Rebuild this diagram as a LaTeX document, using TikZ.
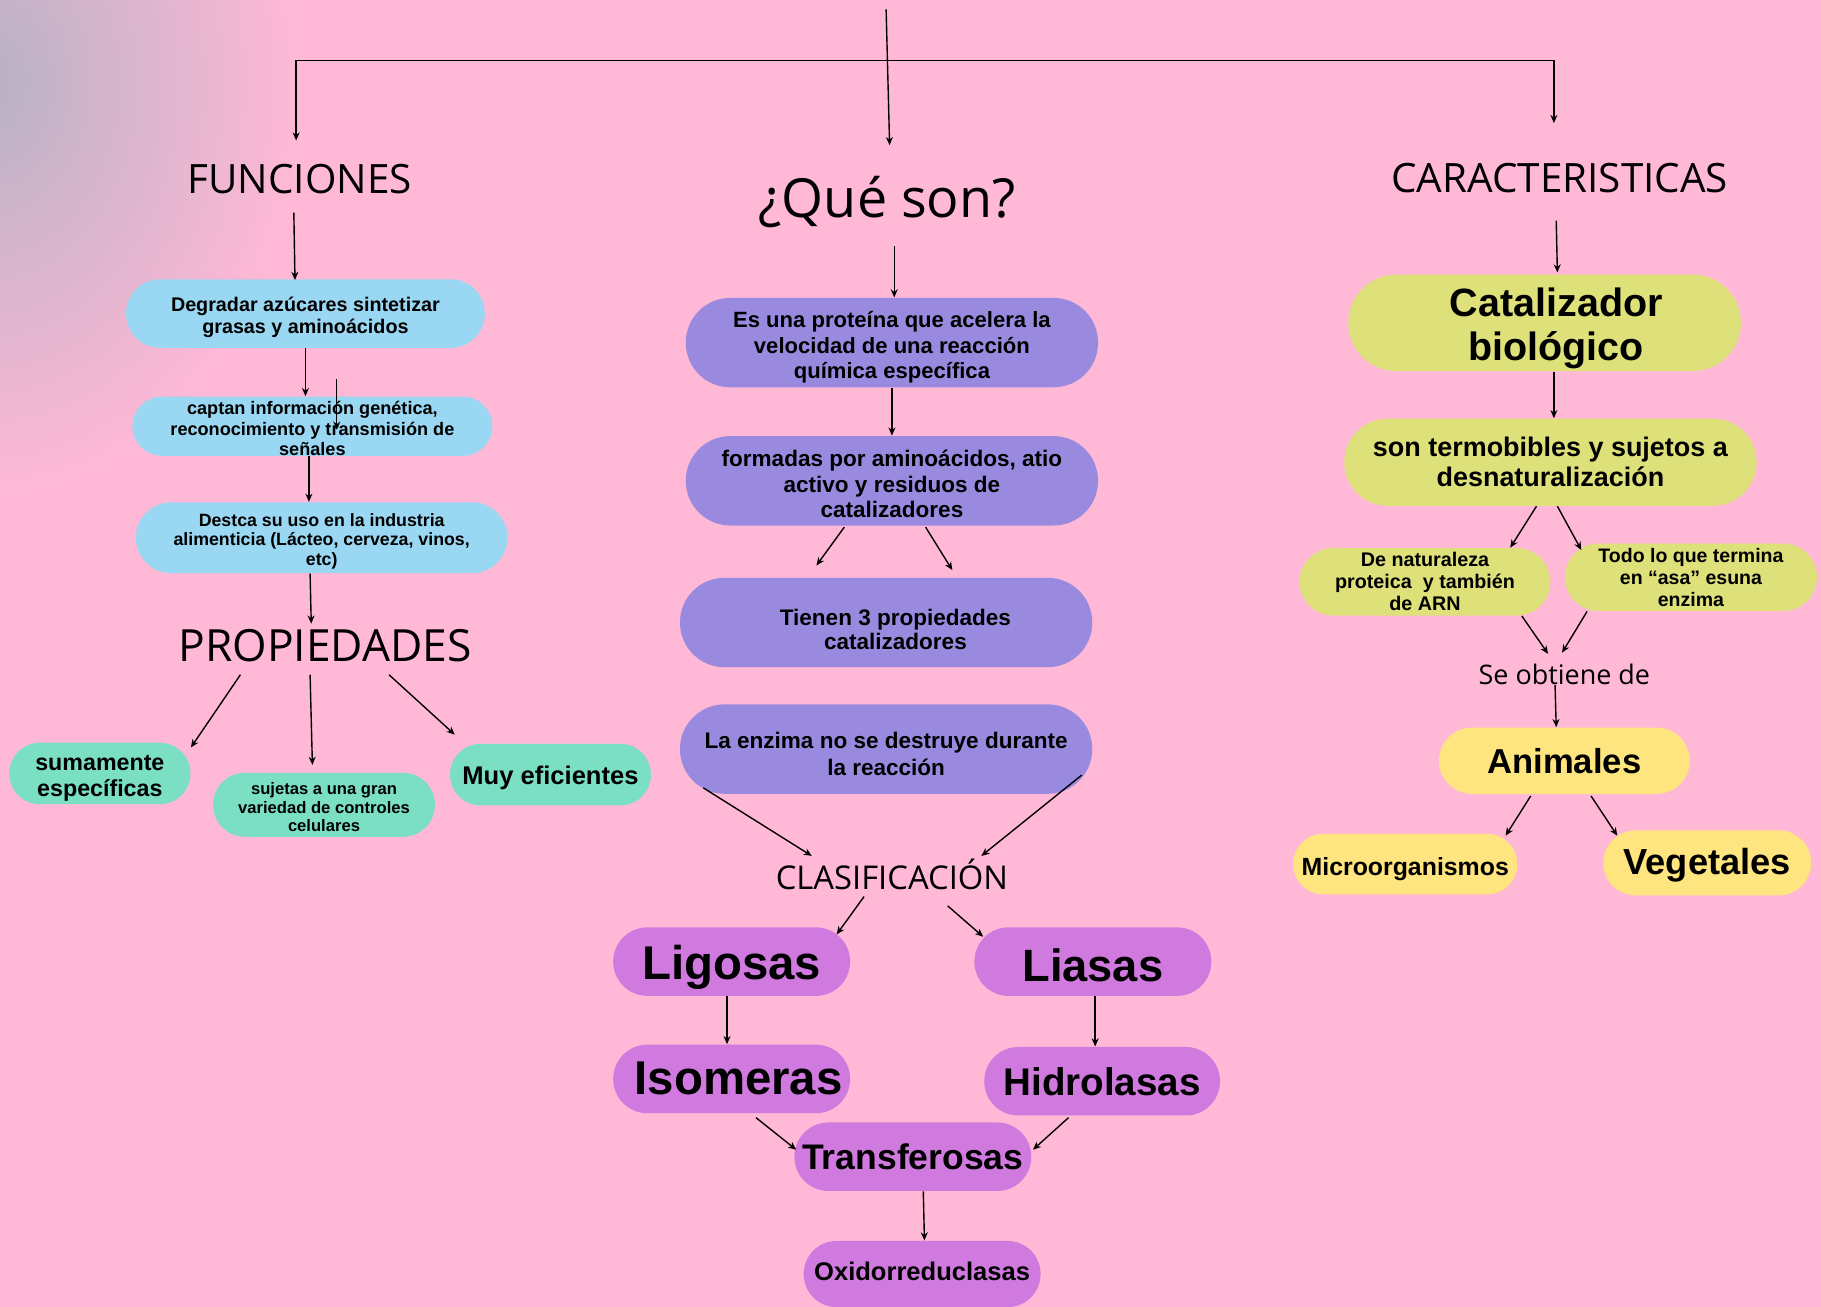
\documentclass[tikz,border=0pt]{standalone}
\usepackage{fontspec}
\newfontfamily\bodyfont{Liberation Sans}
\newfontfamily\titlefont{Open Sans}
\usetikzlibrary{arrows.meta,calc}
\definecolor{pinkbg}{HTML}{FFB8D6}
\definecolor{graylav}{HTML}{B8B2C4}
\definecolor{cblue}{HTML}{9AD7F2}
\definecolor{cgreen}{HTML}{7BDFC4}
\definecolor{cpurple}{HTML}{9A8ADF}
\definecolor{cmag}{HTML}{D07ADF}
\definecolor{cyg}{HTML}{DEE07A}
\definecolor{cyel}{HTML}{FFE57F}
\begin{document}
\begin{tikzpicture}[x=0.5pt,y=-0.5pt,
  pill/.style 2 args={rectangle, draw=none, inner sep=0pt,
    minimum width=#1*0.5pt, minimum height=#2*0.5pt, rounded corners=#2*0.249pt},
  lbl/.style n args={3}{align=center, inner sep=0pt, yshift=#3,
    font=\bodyfont\bfseries\fontsize{#1}{#2}\selectfont},
  ttl/.style={inner sep=0pt, anchor=base, font=\titlefont\fontsize{#1}{#1}\selectfont},
  arr/.style={-{Stealth[length=3.5pt,width=3pt]}, line width=0.6pt},
  arrb/.style={{Stealth[length=3.5pt,width=3pt]}-{Stealth[length=3.5pt,width=3pt]}, line width=0.6pt}]
\clip (0,0) rectangle (1568,1125);
\fill[pinkbg] (0,0) rectangle (1568,1125);
\shade[inner color=graylav, outer color=pinkbg] (-10,70) ellipse [x radius=270, y radius=360];

% titles
\node[ttl=17.4] (func) at (258,167) {FUNCIONES};
\node[ttl=23.2] (que) at (764,187) {¿Qué son?};
\node[ttl=17.4] (car) at (1343,166) {CARACTERISTICAS};
\node[ttl=19.1] (prop) at (280,570) {PROPIEDADES};
\node[ttl=14.1] (clas) at (768,766) {CLASIFICACIÓN};
\node[ttl=11.6] (se) at (1347,589) {Se obtiene de};

% left column
\node[pill={309}{59}, fill=cblue, label={[lbl={8.5}{9.5}{-1.5pt}, name=b1t]center:{Degradar azúcares sintetizar\\grasas y aminoácidos}}] (b1) at (263,270) {};
\node[pill={310}{51}, fill=cblue, label={[lbl={7.8}{8.75}{-1pt}, name=b2t]center:{captan información genética,\\reconocimiento y transmisión de\\señales}}] (b2) at (269,367) {};
\node[pill={320}{61}, fill=cblue, label={[lbl={7.65}{8.5}{-1.5pt}, name=b3t]center:{Destca su uso en la industria\\alimenticia (Lácteo, cerveza, vinos,\\etc)}}] (b3) at (277,463) {};
\node[pill={156}{53}, fill=cgreen, label={[lbl={10}{11}{-2pt}, name=g1t]center:{sumamente\\específicas}}] (g1) at (86,666) {};
\node[pill={191}{55}, fill=cgreen, label={[lbl={7.15}{8}{-1pt}, name=g2t]center:{sujetas a una gran\\variedad de controles\\celulares}}] (g2) at (279,693) {};
\node[pill={173}{53}, fill=cgreen, label={[lbl={11}{13}{-1.5pt}, name=g3t]center:{Muy eficientes}}] (g3) at (474,667) {};

% middle column
\node[pill={355}{77}, fill=cpurple, label={[lbl={9.5}{11}{-2pt}, name=p1t]center:{Es una proteína que acelera la\\velocidad de una reacción\\química específica}}] (p1) at (768,295) {};
\node[pill={355}{77}, fill=cpurple, label={[lbl={9.7}{11}{-1.5pt}, name=p2t]center:{formadas por aminoácidos, atio\\activo y residuos de\\catalizadores}}] (p2) at (768,414) {};
\node[pill={355}{77}, fill=cpurple, label={[lbl={9.7}{10.5}{-3pt}, xshift=4pt, name=p3t]center:{Tienen 3 propiedades\\catalizadores}}] (p3) at (763,536) {};
\node[pill={355}{77}, fill=cpurple, label={[lbl={9.7}{11.5}{-2pt}, name=p4t]center:{La enzima no se destruye durante\\la reacción}}] (p4) at (763,645) {};
\node[pill={204}{59}, fill=cmag, label={[lbl={20.4}{24}{-2.5pt}, name=ligt]center:{Ligosas}}] (lig) at (630,828) {};
\node[pill={204}{59}, fill=cmag, label={[lbl={19.5}{23}{-1.5pt}, name=liat]center:{Liasas}}] (lia) at (941,828) {};
\node[pill={204}{59}, fill=cmag, label={[lbl={20.4}{24}{0pt}, xshift=3pt, name=isot]center:{Isomeras}}] (iso) at (630,929) {};
\node[pill={203}{59}, fill=cmag, label={[lbl={16.6}{20}{0pt}, name=hidt]center:{Hidrolasas}}] (hid) at (949,931) {};
\node[pill={204}{59}, fill=cmag, label={[lbl={15.3}{18}{0pt}, name=trat]center:{Transferosas}}] (tra) at (786,996) {};
\node[pill={204}{57}, fill=cmag, label={[lbl={11}{13}{1pt}, name=oxit]center:{Oxidorreduclasas}}] (oxi) at (794,1097) {};

% right column
\node[pill={338}{83}, fill=cyg, label={[lbl={17}{19}{-2.5pt}, xshift=5pt, name=catt]center:{Catalizador\\biológico}}] (cat) at (1330,278) {};
\node[pill={355}{75}, fill=cyg, label={[lbl={11.6}{13}{0pt}, name=sont]center:{son termobibles y sujetos a\\desnaturalización}}] (son) at (1335,398) {};
\node[pill={216}{58}, fill=cyg, label={[lbl={8.5}{9.5}{0pt}, name=dnt]center:{De naturaleza\\proteica\ \ y también\\de ARN}}] (dn) at (1227,501) {};
\node[pill={217}{58}, fill=cyg, label={[lbl={8.4}{9.5}{0pt}, name=tdt]center:{Todo lo que termina\\en “asa” esuna\\enzima}}] (td) at (1456,497) {};
\node[pill={216}{57}, fill=cyel, label={[lbl={14.9}{18}{0pt}, name=animt]center:{Animales}}] (anim) at (1347,655) {};
\node[pill={193}{52}, fill=cyel, label={[lbl={10.7}{13}{-2pt}, name=mict]center:{Microorganismos}}] (mic) at (1210,744) {};
\node[pill={179}{56}, fill=cyel, label={[lbl={15.6}{18}{-1pt}, name=vegt]center:{Vegetales}}] (veg) at (1470,743) {};

% free ends
\coordinate (top) at (763,8);
\coordinate (p2l) at ($(p2.south)+(-65,34)$);
\coordinate (p2r) at ($(p2.south)+(52,38)$);

% connectors
\draw[arr] (top) -- ($(que.base)+(2,-62)$);
\draw[arrb] ($(func.base)+(-3,-46)$) |- ($(car.base)+(-5,-114)$) -- ($(car.base)+(-5,-60)$);
\draw[arr] ($(func.base)+(-5,16)$) -- ($(b1.north)+(-9,1)$);
\draw[arr] (b1.south) -- ($(b2.north)+(-6,0)$);
\draw[arr] ($(b2.center)+(21,-41)$) -- ($(b2.center)+(21,3)$);
\draw[arr] ($(b2.south)+(-3,0)$) -- ($(b3.north)+(-11,0)$);
\draw[arr] ($(b3.south)+(-10,0)$) -- ($(prop.base)+(-12,-33)$);
\draw[arr] ($(prop.base)+(-73,11)$) -- ($(g1.north east)+(0,4.5)$);
\draw[arr] ($(prop.base)+(-13,11)$) -- ($(g2.north)+(-10,-6.5)$);
\draw[arr] ($(prop.base)+(55,11)$) -- ($(g3.north west)+(4.5,-7.5)$);
\draw[arr] ($(que.base)+(6,25)$) -- ($(p1.north)+(2,0)$);
\draw[arr] (p1.south) -- (p2.north);
\draw[arr] ($(p2.south)+(-41,1)$) -- (p2l);
\draw[arr] ($(p2.south)+(29,1)$) -- (p2r);
\draw[arr] ($(p4.south west)+(20.5,-5.5)$) -- ($(clas.base)+(-69,-29)$);
\draw[arr] ($(p4.south east)+(-9.5,-16.5)$) -- ($(clas.base)+(77,-29)$);
\draw[arr] ($(clas.base)+(-24,6)$) -- ($(lig.north east)+(-12,6.5)$);
\draw[arr] ($(clas.base)+(48,14)$) -- ($(lia.north west)+(8,8.5)$);
\draw[arr] ($(lig.south)+(-4,0)$) -- ($(iso.north)+(-4,0)$);
\draw[arr] ($(lia.south)+(2,0)$) -- ($(hid.north)+(-6,0)$);
\draw[arr] ($(iso.south)+(21,3.5)$) -- ($(tra.west)+(2,-6)$);
\draw[arr] ($(hid.south)+(-29,1.5)$) -- ($(tra.east)+(1,-6)$);
\draw[arr] ($(tra.south)+(9,0)$) -- ($(oxi.north)+(2,0)$);
\draw[arr] ($(car.base)+(-3,24)$) -- ($(cat.north)+(11,-1.5)$);
\draw[arr] ($(cat.south)+(8,0)$) -- ($(son.north)+(3,0)$);
\draw[arr] ($(son.south)+(-12,0)$) -- ($(dn.north east)+(-35,0)$);
\draw[arr] ($(son.south)+(6,0)$) -- ($(td.north west)+(14.5,6)$);
\draw[arr] ($(dn.south east)+(-25,0)$) -- ($(se.base)+(-14,-26)$);
\draw[arr] ($(td.south west)+(19.5,0)$) -- ($(se.base)+(-2,-27)$);
\draw[arr] ($(se.base)+(-8,1)$) -- ($(anim.north)+(-7,0)$);
\draw[arr] ($(anim.south)+(-29,1.5)$) -- ($(mic.north east)+(-10.5,2)$);
\draw[arr] ($(anim.south)+(23,1.5)$) -- ($(veg.north west)+(12.5,5)$);
\end{tikzpicture}
\end{document}
